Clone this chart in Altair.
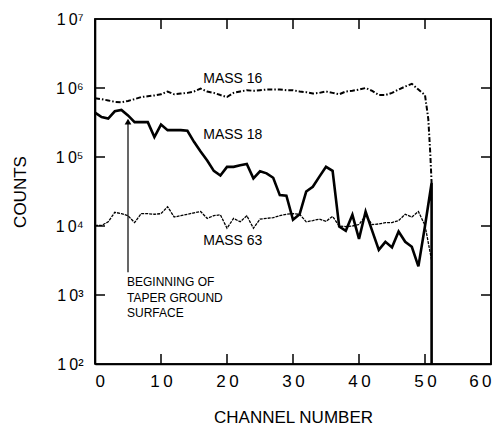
import altair as alt
import pandas as pd

# --- counts per channel (read as plotted values) ---
channels = list(range(52))

mass18 = [440000, 380000, 360000, 460000, 480000, 400000, 320000, 320000, 320000, 195000,
          295000, 245000, 245000, 245000, 240000, 166000, 120000, 89000, 63000, 54000,
          72000, 72000, 76000, 79000, 49000, 62000, 58000, 50000, 28000, 27500,
          12300, 14800, 31600, 37000, 52000, 72000, 63000, 9800, 8500, 14500,
          6500, 16200, 8500, 4500, 5900, 4900, 8300, 5900, 5000, 2600,
          10000, 42000]
# final collapse of the MASS 18 trace at the end of the profile
mass18_tail_ch = [51]
mass18_tail = [100]

mass16 = [710000, 690000, 660000, 630000, 620000, 650000, 690000, 740000, 760000, 780000,
          810000, 890000, 810000, 830000, 850000, 890000, 980000, 890000, 850000, 790000,
          740000, 850000, 890000, 930000, 910000, 930000, 950000, 950000, 950000, 930000,
          930000, 890000, 870000, 830000, 850000, 890000, 850000, 810000, 890000, 910000,
          950000, 1000000, 910000, 790000, 790000, 850000, 950000, 1050000, 1150000, 950000,
          790000, 42000]
# extra readings along the steep MASS 16 drop
mass16_drop_ch = [50.5, 50.8]
mass16_drop = [355000, 112000]

mass63 = [10200, 10200, 11500, 15800, 15100, 14100, 11200, 15100, 15100, 14800,
          15100, 19000, 13500, 14100, 14800, 15500, 16200, 12900, 14100, 14500,
          9300, 12900, 11500, 14100, 9300, 12600, 12900, 13200, 14100, 14800,
          15100, 14800, 11500, 12000, 12600, 11700, 13800, 10000, 9800, 10000,
          10500, 14100, 10500, 10700, 11200, 11200, 12000, 14800, 13500, 16200,
          10200, 3200]

x_domain = [0, 60]
y_domain = [1e2, 1e7]
x_ticks = [0, 10, 20, 30, 40, 50, 60]
x_inner_ticks = [10, 20, 30, 40, 50]
y_ticks = [1e2, 1e3, 1e4, 1e5, 1e6, 1e7]
y_inner_ticks = [1e3, 1e4, 1e5, 1e6]

series_labels = ["MASS 16", "MASS 18", "MASS 63"]
series_label_ch = [16.4, 16.4, 16.4]
series_label_counts = [1.35e6, 2.1e5, 6.0e3]

note_lines = ["BEGINNING OF", "TAPER GROUND", "SURFACE"]
note_ch = 5
note_counts = [1540, 905, 550]
arrow_start = 2140
arrow_end = 3.0e5
arrow_tip = 3.25e5

W, H = 396, 345
TICK = 10  # tick length in pixels
FONT = "Liberation Sans"

# tick length expressed in each scale's units
tick_dx = TICK * (x_domain[1] - x_domain[0]) / W
tick_fy = 10 ** (TICK * 5 / H)

# --- tables ---
d18 = pd.DataFrame({
    "ch": channels + mass18_tail_ch,
    "counts": mass18 + mass18_tail,
    "i": list(range(len(channels) + len(mass18_tail_ch))),
})
ch16 = channels[:-1] + mass16_drop_ch + channels[-1:]
c16 = mass16[:-1] + mass16_drop + mass16[-1:]
d16 = pd.DataFrame({"ch": ch16, "counts": c16, "i": list(range(len(ch16)))})
d63 = pd.DataFrame({"ch": channels, "counts": mass63, "i": channels})

# frame outline traced as one closed path
x0, x1 = x_domain
y0, y1 = y_domain
frame_df = pd.DataFrame({"ch": [x0, x1, x1, x0, x0],
                         "counts": [y0, y0, y1, y1, y0],
                         "i": [0, 1, 2, 3, 4]})

# inward ticks as short two-point segments
seg = []
for v in x_inner_ticks:
    seg += [("b%g" % v, v, y0, 0), ("b%g" % v, v, y0 * tick_fy, 1),
            ("t%g" % v, v, y1 / tick_fy, 0), ("t%g" % v, v, y1, 1)]
for v in y_inner_ticks:
    seg += [("l%g" % v, x0, v, 0), ("l%g" % v, x0 + tick_dx, v, 1),
            ("r%g" % v, x1 - tick_dx, v, 0), ("r%g" % v, x1, v, 1)]
ticks_df = pd.DataFrame(seg, columns=["id", "ch", "counts", "i"])

xs = alt.Scale(domain=x_domain, nice=False, zero=False)
ys = alt.Scale(type="log", domain=y_domain, nice=False)

sup = "'⁰¹²³⁴⁵⁶⁷⁸⁹'"

x_main = alt.Axis(orient="bottom", values=x_ticks, ticks=False, tickSize=0, domain=True,
                  domainColor="black", domainWidth=1.6,
                  grid=False, labelFont=FONT, labelFontSize=17, labelPadding=9,
                  labelColor="black", labelBaseline="top",
                  labelExpr="datum.value == 0 ? '0' : floor(datum.value/10) + '\u2009' + '0'",
                  title="CHANNEL NUMBER", titleFont=FONT, titleFontSize=17,
                  titleFontWeight="normal", titleColor="black", titleY=53,
                  titleBaseline="middle")
y_main = alt.Axis(orient="left", values=y_ticks, ticks=False, tickSize=0, domain=True,
                  domainColor="black", domainWidth=1.6,
                  grid=False, labelFont=FONT, labelFontSize=16, labelPadding=12,
                  labelColor="black",
                  labelExpr="'1\u20090' + substring(" + sup +
                            ", round(log(datum.value)/LN10), round(log(datum.value)/LN10) + 1)",
                  title="COUNTS", titleFont=FONT, titleFontSize=17,
                  titleFontWeight="normal", titleColor="black", titleX=-75, titleY=H / 2,
                  titleAngle=270, titleAlign="center", titleBaseline="middle")


def X(field):
    return alt.X(field, type="quantitative", scale=xs, axis=x_main)


def Y(field):
    return alt.Y(field, type="quantitative", scale=ys, axis=y_main)


frame = alt.Chart(frame_df).mark_line(color="black", strokeWidth=1.6).encode(
    x=X("ch"), y=Y("counts"), order="i:Q",
)
ticks = alt.Chart(ticks_df).mark_line(color="black", strokeWidth=1.5).encode(
    x=X("ch"), y=Y("counts"), detail="id:N", order="i:Q",
)

line18 = alt.Chart(d18).mark_line(color="black", strokeWidth=2.6).encode(
    x=X("ch"), y=Y("counts"), order="i:Q",
)
line16 = alt.Chart(d16).mark_line(color="black", strokeWidth=2.0,
                                  strokeDash=[5, 2, 1.5, 2]).encode(
    x=X("ch"), y=Y("counts"), order="i:Q",
)
line63 = alt.Chart(d63).mark_line(color="black", strokeWidth=1.3,
                                  strokeDash=[3, 1]).encode(
    x=X("ch"), y=Y("counts"), order="i:Q",
)

labels_df = pd.DataFrame({"ch": series_label_ch, "counts": series_label_counts,
                          "text": series_labels})
series_text = alt.Chart(labels_df).mark_text(font=FONT, fontSize=14, align="left",
                                             baseline="middle", color="black").encode(
    x=X("ch"), y=Y("counts"), text="text:N",
)

note_df = pd.DataFrame({"ch": [note_ch] * 3, "counts": note_counts, "text": note_lines})
note_text = alt.Chart(note_df).mark_text(font=FONT, fontSize=12, align="left",
                                         baseline="middle", color="black",
                                         dx=-1).encode(
    x=X("ch"), y=Y("counts"), text="text:N",
)

arrow_df = pd.DataFrame({"ch": [note_ch], "y1": [arrow_start], "y2": [arrow_end],
                         "tip": [arrow_tip]})
arrow_line = alt.Chart(arrow_df).mark_rule(color="black", strokeWidth=1.2).encode(
    x=X("ch"), y=Y("y1"), y2="y2:Q",
)
arrow_head = alt.Chart(arrow_df).mark_point(shape="triangle-up", filled=True, size=45,
                                            color="black", opacity=1).encode(
    x=X("ch"), y=Y("tip"),
)

chart = alt.layer(
    frame, ticks, line63, line16, line18, series_text, note_text, arrow_line, arrow_head
).properties(
    width=W, height=H,
    autosize=alt.AutoSizeParams(type="none"),
    padding={"left": 95, "top": 19, "right": 12, "bottom": 62},
    background="white",
).configure_view(
    stroke="black", strokeWidth=1.6
)

chart.save("out.html", embed_options={"renderer": "svg", "actions": False})
